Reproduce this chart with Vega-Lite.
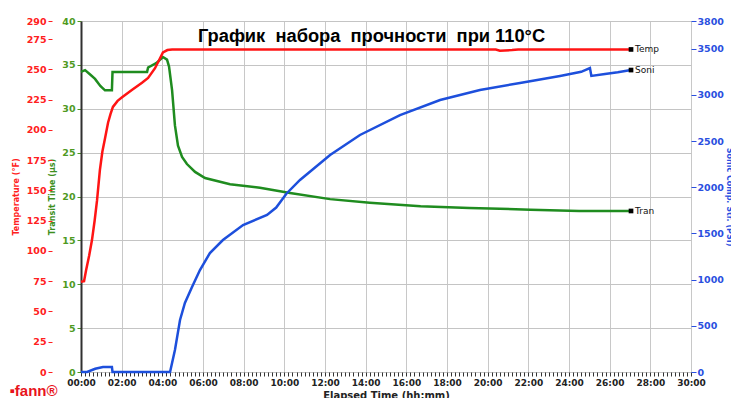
{
  "$schema": "https://vega.github.io/schema/vega-lite/v6.json",
  "autosize": {"type": "none"},
  "width": 610,
  "height": 351,
  "padding": {"left": 81, "top": 21, "right": 40, "bottom": 26},
  "background": "white",
  "config": {
    "view": {"stroke": "#a8a8a8", "strokeWidth": 1},
    "font": "DejaVu Sans",
    "axis": {"labelFont": "DejaVu Sans", "labelFontWeight": "bold", "titleFont": "DejaVu Sans", "labelFontSize": 9.5}
  },
  "datasets": {
    "temp": [
      {"t": 0, "v": 74.5}, {"t": 0.15, "v": 75}, {"t": 0.25, "v": 84}, {"t": 0.4, "v": 96},
      {"t": 0.54, "v": 109}, {"t": 0.67, "v": 125}, {"t": 0.79, "v": 142}, {"t": 0.93, "v": 167},
      {"t": 1.05, "v": 182}, {"t": 1.18, "v": 193}, {"t": 1.33, "v": 206}, {"t": 1.45, "v": 213},
      {"t": 1.57, "v": 219}, {"t": 1.8, "v": 224}, {"t": 2.02, "v": 227}, {"t": 2.5, "v": 233},
      {"t": 3.0, "v": 239}, {"t": 3.3, "v": 243}, {"t": 3.64, "v": 251}, {"t": 3.85, "v": 258},
      {"t": 4.03, "v": 264}, {"t": 4.25, "v": 266}, {"t": 4.48, "v": 266.5}, {"t": 10, "v": 266.5},
      {"t": 15, "v": 266.5}, {"t": 20.4, "v": 266.5}, {"t": 20.6, "v": 265.5}, {"t": 21.2, "v": 266},
      {"t": 21.5, "v": 266.5}, {"t": 27.05, "v": 266.5}
    ],
    "tran": [
      {"t": 0, "v": 34.2}, {"t": 0.2, "v": 34.4}, {"t": 0.45, "v": 33.9}, {"t": 0.69, "v": 33.4},
      {"t": 0.95, "v": 32.6}, {"t": 1.18, "v": 32.1}, {"t": 1.52, "v": 32.1}, {"t": 1.55, "v": 34.2},
      {"t": 3.25, "v": 34.2}, {"t": 3.3, "v": 34.7}, {"t": 3.7, "v": 35.2}, {"t": 4.03, "v": 35.9},
      {"t": 4.23, "v": 35.6}, {"t": 4.33, "v": 34.8}, {"t": 4.48, "v": 32.1}, {"t": 4.62, "v": 28.1},
      {"t": 4.77, "v": 25.8}, {"t": 4.97, "v": 24.5}, {"t": 5.21, "v": 23.7}, {"t": 5.61, "v": 22.8},
      {"t": 6.1, "v": 22.1}, {"t": 7.33, "v": 21.4}, {"t": 8.8, "v": 21.0}, {"t": 10.28, "v": 20.4},
      {"t": 12.25, "v": 19.7}, {"t": 14.2, "v": 19.3}, {"t": 16.7, "v": 18.9}, {"t": 19.1, "v": 18.7},
      {"t": 22.1, "v": 18.5}, {"t": 24.5, "v": 18.35}, {"t": 27.05, "v": 18.35}
    ],
    "soni": [
      {"t": 0, "v": 0}, {"t": 0.3, "v": 0}, {"t": 0.7, "v": 35}, {"t": 1.08, "v": 54},
      {"t": 1.52, "v": 54}, {"t": 1.55, "v": 0}, {"t": 4.38, "v": 0}, {"t": 4.62, "v": 238},
      {"t": 4.87, "v": 563}, {"t": 5.11, "v": 747}, {"t": 5.46, "v": 920}, {"t": 5.85, "v": 1104},
      {"t": 6.34, "v": 1288}, {"t": 6.98, "v": 1429}, {"t": 7.97, "v": 1591}, {"t": 9.15, "v": 1700},
      {"t": 9.6, "v": 1780}, {"t": 10.1, "v": 1930}, {"t": 10.77, "v": 2079}, {"t": 12.25, "v": 2349},
      {"t": 13.72, "v": 2566}, {"t": 15.69, "v": 2782}, {"t": 17.66, "v": 2945}, {"t": 19.62, "v": 3053},
      {"t": 21.59, "v": 3129}, {"t": 23.56, "v": 3205}, {"t": 24.6, "v": 3250}, {"t": 25.03, "v": 3291},
      {"t": 25.1, "v": 3205}, {"t": 25.77, "v": 3226}, {"t": 26.4, "v": 3245}, {"t": 27.05, "v": 3269}
    ]
  },
  "encoding": {
    "x": {
      "field": "t", "type": "quantitative",
      "scale": {"domain": [0, 30], "nice": false, "zero": false},
      "axis": {
        "values": [0,0.2,0.4,0.6,0.8,1,1.2,1.4,1.6,1.8,2,2.2,2.4,2.6,2.8,3,3.2,3.4,3.6,3.8,4,4.2,4.4,4.6,4.8,5,5.2,5.4,5.6,5.8,6,6.2,6.4,6.6,6.8,7,7.2,7.4,7.6,7.8,8,8.2,8.4,8.6,8.8,9,9.2,9.4,9.6,9.8,10,10.2,10.4,10.6,10.8,11,11.2,11.4,11.6,11.8,12,12.2,12.4,12.6,12.8,13,13.2,13.4,13.6,13.8,14,14.2,14.4,14.6,14.8,15,15.2,15.4,15.6,15.8,16,16.2,16.4,16.6,16.8,17,17.2,17.4,17.6,17.8,18,18.2,18.4,18.6,18.8,19,19.2,19.4,19.6,19.8,20,20.2,20.4,20.6,20.8,21,21.2,21.4,21.6,21.8,22,22.2,22.4,22.6,22.8,23,23.2,23.4,23.6,23.8,24,24.2,24.4,24.6,24.8,25,25.2,25.4,25.6,25.8,26,26.2,26.4,26.6,26.8,27,27.2,27.4,27.6,27.8,28,28.2,28.4,28.6,28.8,29,29.2,29.4,29.6,29.8,30],
        "labelExpr": "datum.value % 2 === 0 ? (datum.value < 10 ? '0' : '') + datum.value + ':00' : ''",
        "labelOverlap": false, "labelFlush": false, "labelBound": false,
        "labelFontSize": 9, "labelColor": "#222222", "labelPadding": 2,
        "tickSize": 4, "tickColor": "#333333", "tickWidth": 1,
        "domain": false,
        "grid": true, "gridColor": "#c8c8c8", "gridWidth": 1,
        "gridOpacity": {"condition": {"test": "datum.value % 2 === 0", "value": 1}, "value": 0},
        "title": "Elapsed Time (hh:mm)", "titleFontSize": 10, "titleFontWeight": "bold",
        "titleColor": "#222222", "titlePadding": 3
      }
    }
  },
  "layer": [
    {
      "data": {"name": "tran"},
      "encoding": {
        "y": {
          "field": "v", "type": "quantitative",
          "scale": {"domain": [0, 40], "nice": false, "zero": false},
          "axis": {
            "orient": "left", "values": [0,5,10,15,20,25,30,35,40],
            "domain": true, "domainColor": "#303030", "domainWidth": 2,
            "grid": true, "gridColor": "#c4c4c4", "gridWidth": 1,
            "tickColor": "#4f9a1f", "tickSize": 4, "labelColor": "#4f9a1f", "labelPadding": 2,
            "title": "Transit Time (µs)", "titleColor": "#3d8f1d", "titleFontSize": 8,
            "titleFontWeight": "bold", "titlePadding": 5
          }
        }
      },
      "mark": {"type": "line", "color": "#1f8c1f", "strokeWidth": 2.5}
    },
    {
      "data": {"name": "temp"},
      "encoding": {
        "y": {
          "field": "v", "type": "quantitative",
          "scale": {"domain": [0, 290], "nice": false, "zero": false},
          "axis": {
            "orient": "left", "offset": 29, "values": [0,25,50,75,100,125,150,175,200,225,250,275,290],
            "domain": false, "grid": false,
            "tickColor": "#ff2020", "tickSize": 4, "labelColor": "#ff2020", "labelPadding": 2,
            "title": "Temperature (°F)", "titleColor": "#ff2020", "titleFontSize": 8,
            "titleFontWeight": "bold", "titlePadding": 6
          }
        }
      },
      "layer": [
        {"mark": {"type": "line", "color": "#ff1414", "strokeWidth": 2.5}},
        {"transform": [{"filter": "datum.t >= 27"}], "mark": {"type": "square", "color": "#000000", "size": 22, "filled": true, "opacity": 1}},
        {"transform": [{"filter": "datum.t >= 27"}], "mark": {"type": "text", "text": "Temp", "align": "left", "dx": 4, "fontSize": 9, "font": "DejaVu Sans", "color": "#111111"}}
      ]
    },
    {
      "data": {"name": "soni"},
      "encoding": {
        "y": {
          "field": "v", "type": "quantitative",
          "scale": {"domain": [0, 3800], "nice": false, "zero": false},
          "axis": {
            "orient": "right", "values": [0,500,1000,1500,2000,2500,3000,3500,3800], "format": "d",
            "domain": false, "grid": false,
            "tickColor": "#2a4fe0", "tickSize": 5, "labelColor": "#2a4fe0", "labelPadding": 1,
            "title": "Sonic Comp. Str. (PSI)", "titleColor": "#2a4fe0", "titleFontSize": 8,
            "titleFontWeight": "bold", "titlePadding": 1
          }
        }
      },
      "layer": [
        {"mark": {"type": "line", "color": "#1d4fdc", "strokeWidth": 2.5}},
        {"transform": [{"filter": "datum.t >= 27"}], "mark": {"type": "square", "color": "#000000", "size": 22, "filled": true, "opacity": 1}},
        {"transform": [{"filter": "datum.t >= 27"}], "mark": {"type": "text", "text": "Soni", "align": "left", "dx": 4, "fontSize": 9, "font": "DejaVu Sans", "color": "#111111"}}
      ]
    },
    {
      "data": {"name": "tran"},
      "transform": [{"filter": "datum.t >= 27"}],
      "mark": {"type": "text", "text": "Tran", "align": "left", "dx": 4, "fontSize": 9, "font": "DejaVu Sans", "color": "#111111"},
      "encoding": {
        "y": {
          "field": "v", "type": "quantitative",
          "scale": {"domain": [0, 40], "nice": false, "zero": false},
          "axis": {
            "orient": "left", "domain": false, "ticks": false, "labels": false, "grid": false,
            "title": "▪fann®", "titleAngle": 0, "titleX": -48, "titleY": 369,
            "titleAlign": "center", "titleBaseline": "middle", "titleColor": "#e8141c",
            "titleFont": "Liberation Sans", "titleFontSize": 15, "titleFontWeight": "bold"
          }
        }
      }
    },
    {
      "data": {"name": "tran"},
      "transform": [{"filter": "datum.t >= 27"}],
      "mark": {"type": "square", "color": "#000000", "size": 22, "filled": true, "opacity": 1},
      "encoding": {
        "y": {
          "field": "v", "type": "quantitative",
          "scale": {"domain": [0, 40], "nice": false, "zero": false},
          "axis": {
            "orient": "left", "domain": false, "ticks": false, "labels": false, "grid": false,
            "title": "График\u00a0 набора\u00a0 прочности\u00a0 при 110°C", "titleAngle": 0, "titleX": 290, "titleY": 15,
            "titleAlign": "center", "titleBaseline": "middle", "titleColor": "#000000",
            "titleFont": "Liberation Sans", "titleFontSize": 18.3, "titleFontWeight": "bold"
          }
        }
      }
    }
  ],
  "resolve": {"scale": {"y": "independent"}, "axis": {"y": "independent"}}
}
